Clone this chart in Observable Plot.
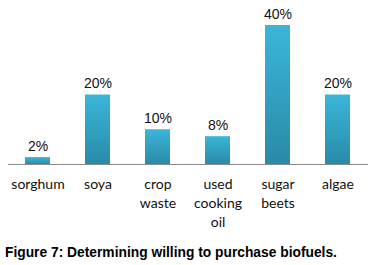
<!DOCTYPE html>
<html>
<head>
<meta charset="utf-8">
<script src="https://cdn.jsdelivr.net/npm/d3@7"></script>
<script src="https://cdn.jsdelivr.net/npm/@observablehq/plot@0.6"></script>
<style>
  body { margin: 0; background: #fff; }
  #caption { font: bold 13.8px "Liberation Sans", Arial, sans-serif; color: #000; margin: 9px 0 0 5px; line-height: 15px; }
</style>
</head>
<body>
<div id="chart"></div>
<div id="caption">Figure 7: Determining willing to purchase biofuels.</div>
<script>
const categories = ["sorghum", "soya", "crop\nwaste", "used\ncooking\noil", "sugar\nbeets", "algae"];
const values = [2, 20, 10, 8, 40, 20];
const valueLabels = ["2%", "20%", "10%", "8%", "40%", "20%"];

const data = categories.map((c, i) => ({cat: c, value: values[i], label: valueLabels[i]}));

const plot = Plot.plot({
  width: 372,
  height: 236,
  marginLeft: 8,
  marginRight: 4,
  marginTop: 25,
  marginBottom: 72,
  style: {background: "#fff"},
  x: {domain: categories, paddingInner: 0.58, paddingOuter: 0.29, axis: null, label: null},
  y: {domain: [0, 40], axis: null},
  marks: [
    Plot.barY(data, {x: "cat", y: "value", fill: "url(#barGrad)"}),
    Plot.ruleY([0], {stroke: "#8c8c8c", strokeWidth: 1}),
    Plot.text(data, {x: "cat", y: "value", text: "label", lineAnchor: "bottom", dy: -7,
      fontSize: 14, fontFamily: "Liberation Sans, Arial, sans-serif", fill: "#111"}),
    Plot.axisX({tickSize: 0, tickPadding: 11, lineHeight: 1.36, fontSize: 14, label: null,
      fontFamily: "Lato, sans-serif", fill: "#111", color: "#111"})
  ]
});

const svg = d3.select(plot);
const defs = svg.insert("defs", ":first-child");
const g = defs.append("linearGradient").attr("id", "barGrad")
  .attr("x1", 0).attr("y1", 0).attr("x2", 0).attr("y2", 1);
g.append("stop").attr("offset", "0%").attr("stop-color", "#3ab6d9");
g.append("stop").attr("offset", "100%").attr("stop-color", "#2a8aa7");

document.getElementById("chart").append(plot);
</script>
</body>
</html>
